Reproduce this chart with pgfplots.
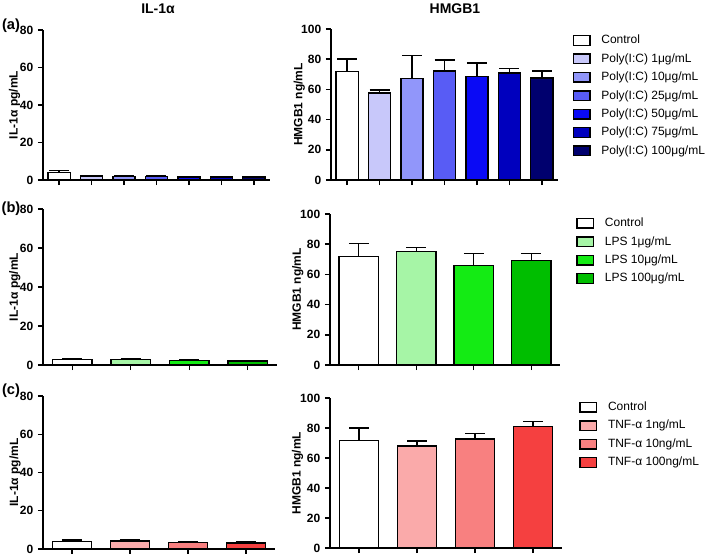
\documentclass[border=0pt]{standalone}
\usepackage{pgfplots}
\pgfplotsset{compat=1.18}
\usepackage{fontspec}
\setmainfont{Liberation Sans}

% bar colours
\definecolor{pc1}{RGB}{200,200,250}
\definecolor{pc10}{RGB}{145,150,250}
\definecolor{pc25}{RGB}{88,92,245}
\definecolor{pc50}{RGB}{10,10,245}
\definecolor{pc75}{RGB}{0,0,190}
\definecolor{pc100}{RGB}{0,0,110}
\definecolor{lc1}{RGB}{166,245,166}
\definecolor{lc10}{RGB}{20,235,20}
\definecolor{lc100}{RGB}{0,190,0}
\definecolor{tc1}{RGB}{250,170,170}
\definecolor{tc10}{RGB}{248,128,128}
\definecolor{tc100}{RGB}{245,64,64}

\pgfplotsset{
  panel/.style={
    scale only axis, anchor=south west, clip=false,
    ybar, bar width=0.68, bar shift=0pt,
    axis lines=left, axis line style={line width=1.1pt, -},
    ymin=0, tick align=outside, major tick length=3.8pt,
    every tick/.style={line width=1.1pt, black},
    xticklabels={},
    tick label style={font=\fontsize{9}{10}\selectfont\bfseries},
    /pgf/number format/assume math mode=true,
    ylabel style={font=\fontsize{9}{10}\selectfont\bfseries, anchor=center},
    every axis plot/.append style={draw=black, line width=1.1pt},
    error bars/y dir=plus, error bars/y explicit,
    error bars/error bar style={line width=1.1pt, black},
    error bars/error mark options={rotate=90, line width=1.1pt, black, mark size=7.5pt},
    legend cell align=left,
    legend image code/.code={\draw[#1, line width=1.1pt] (0pt,-3.6pt) rectangle (12.5pt,3.6pt);},
    legend style={draw=none, fill=none, inner sep=0pt,
      font=\fontsize{9}{10}\selectfont,
      nodes={inner ysep=0pt, inner xsep=0pt, text height=7pt, text depth=2pt},
      /tikz/every odd column/.append style={column sep=8pt},
      row sep=4.8pt},
  },
}

\begin{document}
\begin{tikzpicture}
\useasboundingbox (0,0) rectangle (531pt,415.5pt);

% titles and panel letters
\node[font=\fontsize{10.5}{12}\selectfont\bfseries] at (158*0.75pt,{(554-9)*0.75pt}) {IL-1α};
\node[font=\fontsize{10.5}{12}\selectfont\bfseries] at (455*0.75pt,{(554-9)*0.75pt}) {HMGB1};
\node[font=\fontsize{11}{12}\selectfont\bfseries] at (11*0.75pt,{(554-26)*0.75pt}) {(a)};
\node[font=\fontsize{11}{12}\selectfont\bfseries] at (11*0.75pt,{(554-209)*0.75pt}) {(b)};
\node[font=\fontsize{11}{12}\selectfont\bfseries] at (11*0.75pt,{(554-391)*0.75pt}) {(c)};

% (a) IL-1alpha
\begin{axis}[panel, at={(43*0.75pt,{(554-180)*0.75pt})},
  width=227*0.75pt, height=150*0.75pt,
  xmin=-0.5, xmax=6.5, xtick={0,...,6}, ymax=80, ytick={0,20,...,80},
  ylabel={IL-1α pg/mL}, ylabel style={at={(axis description cs:-0.125,0.5)}}]
\addplot[fill=white] coordinates {(0,3.9) +- (0,1.1)};
\addplot[fill=pc1] coordinates {(1,2.1) +- (0,0.3)};
\addplot[fill=pc10] coordinates {(2,1.9) +- (0,0.2)};
\addplot[fill=pc25] coordinates {(3,1.9) +- (0,0.2)};
\addplot[fill=pc50] coordinates {(4,1.6) +- (0,0.2)};
\addplot[fill=pc75] coordinates {(5,1.6) +- (0,0.2)};
\addplot[fill=pc100] coordinates {(6,1.6) +- (0,0.2)};
\end{axis}

% (a) HMGB1
\begin{axis}[panel, at={(331*0.75pt,{(554-180)*0.75pt})},
  width=227*0.75pt, height=151*0.75pt,
  xmin=-0.5, xmax=6.5, xtick={0,...,6}, ymax=100, ytick={0,20,...,100},
  ylabel={HMGB1 ng/mL}, ylabel style={at={(axis description cs:-0.14,0.5)}},
  legend style={at={(1.063,0.965)}, anchor=north west}]
\addplot[fill=white] coordinates {(0,71.9) +- (0,8.2)};
\addplot[fill=pc1] coordinates {(1,57.5) +- (0,2.2)};
\addplot[fill=pc10] coordinates {(2,67.3) +- (0,15.0)};
\addplot[fill=pc25] coordinates {(3,72.1) +- (0,7.3)};
\addplot[fill=pc50] coordinates {(4,68.6) +- (0,8.8)};
\addplot[fill=pc75] coordinates {(5,70.8) +- (0,3.1)};
\addplot[fill=pc100] coordinates {(6,67.5) +- (0,4.6)};
\legend{Control, Poly(I:C) 1μg/mL, Poly(I:C) 10μg/mL, Poly(I:C) 25μg/mL,
  Poly(I:C) 50μg/mL, Poly(I:C) 75μg/mL, Poly(I:C) 100μg/mL}
\end{axis}

% (b) IL-1alpha
\begin{axis}[panel, at={(43*0.75pt,{(554-365)*0.75pt})},
  width=234*0.75pt, height=156*0.75pt,
  xmin=-0.5, xmax=3.5, xtick={0,...,3}, ymax=80, ytick={0,20,...,80},
  ylabel={IL-1α pg/mL}, ylabel style={at={(axis description cs:-0.12,0.5)}}]
\addplot[fill=white] coordinates {(0,2.9) +- (0,0.5)};
\addplot[fill=lc1] coordinates {(1,2.9) +- (0,0.5)};
\addplot[fill=lc10] coordinates {(2,2.4) +- (0,0.5)};
\addplot[fill=lc100] coordinates {(3,2.1) +- (0,0.3)};
\end{axis}

% (b) HMGB1
\begin{axis}[panel, at={(330*0.75pt,{(554-365)*0.75pt})},
  width=230*0.75pt, height=151*0.75pt,
  xmin=-0.5, xmax=3.5, xtick={0,...,3}, ymax=100, ytick={0,20,...,100},
  ylabel={HMGB1 ng/mL}, ylabel style={at={(axis description cs:-0.14,0.5)}},
  legend style={at={(1.069,0.98)}, anchor=north west}]
\addplot[fill=white] coordinates {(0,71.7) +- (0,8.9)};
\addplot[fill=lc1] coordinates {(1,75.3) +- (0,2.4)};
\addplot[fill=lc10] coordinates {(2,66.0) +- (0,7.7)};
\addplot[fill=lc100] coordinates {(3,69.1) +- (0,4.9)};
\legend{Control, LPS 1μg/mL, LPS 10μg/mL, LPS 100μg/mL}
\end{axis}

% (c) IL-1alpha
\begin{axis}[panel, at={(43*0.75pt,{(554-549)*0.75pt})},
  width=232*0.75pt, height=153*0.75pt,
  xmin=-0.5, xmax=3.5, xtick={0,...,3}, ymax=80, ytick={0,20,...,80},
  ylabel={IL-1α pg/mL}, ylabel style={at={(axis description cs:-0.12,0.5)}}]
\addplot[fill=white] coordinates {(0,4.0) +- (0,0.7)};
\addplot[fill=tc1] coordinates {(1,4.3) +- (0,0.6)};
\addplot[fill=tc10] coordinates {(2,3.5) +- (0,0.3)};
\addplot[fill=tc100] coordinates {(3,3.1) +- (0,0.6)};
\end{axis}

% (c) HMGB1
\begin{axis}[panel, at={(330*0.75pt,{(554-548)*0.75pt})},
  width=232*0.75pt, height=150*0.75pt,
  xmin=-0.5, xmax=3.5, xtick={0,...,3}, ymax=100, ytick={0,20,...,100},
  ylabel={HMGB1 ng/mL}, ylabel style={at={(axis description cs:-0.14,0.5)}},
  legend style={at={(1.073,0.98)}, anchor=north west}]
\addplot[fill=white] coordinates {(0,71.5) +- (0,8.4)};
\addplot[fill=tc1] coordinates {(1,67.9) +- (0,3.3)};
\addplot[fill=tc10] coordinates {(2,72.6) +- (0,3.9)};
\addplot[fill=tc100] coordinates {(3,81.0) +- (0,3.5)};
\legend{Control, TNF-α 1ng/mL, TNF-α 10ng/mL, TNF-α 100ng/mL}
\end{axis}
\end{tikzpicture}
\end{document}
